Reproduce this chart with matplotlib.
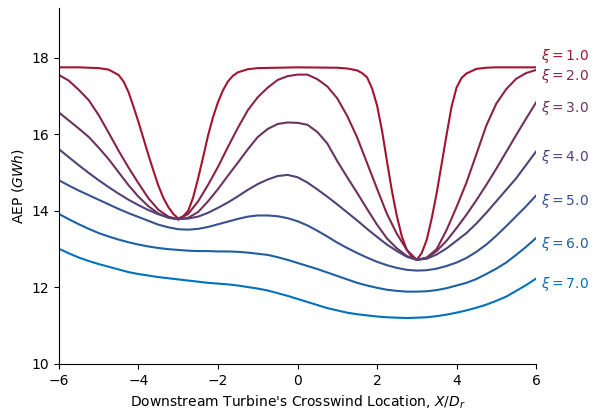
import numpy as np
import matplotlib
matplotlib.use('Agg')
import matplotlib.pyplot as plt
from matplotlib.colors import to_rgb

# posiciones muestreadas del eje x (X/D_r), paso de 0.25
x = np.linspace(-6, 6, 49)

# la curva xi=1 es muy empinada en los valles, la muestreamos mas fino ahi
x_xi1 = [-6.0, -5.5, -5.0, -4.75, -4.5, -4.375, -4.25, -4.125, -4.0, -3.875, -3.75, -3.625,
         -3.5, -3.375, -3.25, -3.125, -3.0, -2.875, -2.75, -2.625, -2.5, -2.375, -2.25,
         -2.125, -2.0, -1.875, -1.75, -1.625, -1.5, -1.25, -1.0, 0.0, 1.0, 1.25, 1.5, 1.625,
         1.75, 1.875, 2.0, 2.125, 2.25, 2.375, 2.5, 2.625, 2.75, 2.875, 3.0, 3.125, 3.25,
         3.375, 3.5, 3.625, 3.75, 3.875, 4.0, 4.125, 4.25, 4.5, 4.75, 5.0, 6.0]
aep_xi1 = [17.75, 17.75, 17.73, 17.69, 17.55, 17.38, 17.10, 16.72, 16.32, 15.89, 15.46, 15.05,
           14.66, 14.34, 14.10, 13.92, 13.80, 13.86, 14.00, 14.35, 14.85, 15.40, 15.97,
           16.45, 16.84, 17.15, 17.38, 17.53, 17.62, 17.70, 17.73, 17.75, 17.74, 17.72, 17.67, 17.60,
           17.49, 17.20, 16.76, 16.10, 15.30, 14.52, 13.86, 13.33, 12.98, 12.80, 12.72, 12.90, 13.24,
           13.80, 14.46, 15.22, 15.99, 16.72, 17.22, 17.47, 17.59, 17.71, 17.74, 17.75, 17.75]

aep_xi2 = [17.55, 17.40, 17.16, 16.89, 16.50, 16.04, 15.57, 15.13, 14.72, 14.33, 14.03, 13.85, 13.78,
           13.92, 14.25, 14.68, 15.15, 15.67, 16.17, 16.63, 16.97, 17.22, 17.42, 17.52, 17.56,
           17.56, 17.44, 17.25, 16.94, 16.48, 15.92, 15.25, 14.58, 13.92, 13.40, 12.98, 12.72,
           12.78, 13.00, 13.50, 14.10, 14.74, 15.48, 16.23, 16.80, 17.18, 17.45, 17.60, 17.68]
aep_xi3 = [16.57, 16.36, 16.15, 15.93, 15.65, 15.35, 15.01, 14.67, 14.37, 14.12, 13.93, 13.82, 13.78,
           13.82, 13.97, 14.25, 14.57, 14.92, 15.26, 15.61, 15.93, 16.14, 16.27, 16.31, 16.30,
           16.25, 16.06, 15.76, 15.30, 14.88, 14.47, 14.05, 13.64, 13.28, 13.02, 12.82, 12.72,
           12.77, 12.95, 13.22, 13.55, 13.90, 14.28, 14.68, 15.10, 15.54, 15.98, 16.41, 16.83]
aep_xi4 = [15.61, 15.40, 15.19, 14.99, 14.80, 14.62, 14.45, 14.29, 14.15, 14.02, 13.91, 13.83, 13.78,
           13.80, 13.85, 13.95, 14.08, 14.22, 14.38, 14.55, 14.70, 14.82, 14.91, 14.94, 14.88,
           14.74, 14.56, 14.37, 14.17, 13.96, 13.75, 13.53, 13.32, 13.12, 12.95, 12.80, 12.72,
           12.75, 12.86, 13.02, 13.22, 13.42, 13.67, 13.95, 14.25, 14.55, 14.85, 15.20, 15.55]
aep_xi5 = [14.80, 14.66, 14.53, 14.41, 14.29, 14.17, 14.05, 13.94, 13.84, 13.74, 13.64, 13.57, 13.52,
           13.51, 13.53, 13.58, 13.65, 13.72, 13.79, 13.85, 13.88, 13.88, 13.86, 13.81, 13.73,
           13.62, 13.48, 13.33, 13.17, 13.03, 12.90, 12.78, 12.67, 12.58, 12.51, 12.46, 12.44,
           12.45, 12.49, 12.56, 12.65, 12.77, 12.93, 13.12, 13.35, 13.60, 13.86, 14.12, 14.40]
aep_xi6 = [13.92, 13.78, 13.65, 13.53, 13.42, 13.33, 13.25, 13.18, 13.12, 13.07, 13.03, 13.00, 12.98,
           12.96, 12.95, 12.95, 12.94, 12.94, 12.93, 12.91, 12.88, 12.85, 12.79, 12.72, 12.64,
           12.56, 12.48, 12.39, 12.30, 12.21, 12.12, 12.05, 11.99, 11.94, 11.91, 11.89, 11.89,
           11.90, 11.93, 11.98, 12.05, 12.12, 12.22, 12.35, 12.49, 12.65, 12.85, 13.06, 13.29]
aep_xi7 = [13.01, 12.89, 12.78, 12.69, 12.61, 12.54, 12.47, 12.40, 12.35, 12.31, 12.27, 12.24, 12.21,
           12.18, 12.15, 12.12, 12.10, 12.08, 12.05, 12.01, 11.97, 11.92, 11.85, 11.78, 11.70,
           11.62, 11.54, 11.46, 11.40, 11.34, 11.30, 11.27, 11.24, 11.22, 11.21, 11.20, 11.21,
           11.22, 11.25, 11.29, 11.34, 11.40, 11.47, 11.55, 11.65, 11.76, 11.91, 12.06, 12.23]

xis = [1.0, 2.0, 3.0, 4.0, 5.0, 6.0, 7.0]
xs = [x_xi1, x, x, x, x, x, x]
curvas = [aep_xi1, aep_xi2, aep_xi3, aep_xi4, aep_xi5, aep_xi6, aep_xi7]

# degradado de rojo a azul
c_ini = np.array(to_rgb('#A2142F'))
c_fin = np.array(to_rgb('#0072BD'))

fig = plt.figure(figsize=(5.94, 4.11), dpi=100)
ax = fig.add_axes([0.0993, 0.1144, 0.8031, 0.8661])

for i, (xi, xx, aep) in enumerate(zip(xis, xs, curvas)):
    t = i / (len(xis) - 1)
    color = (1 - t) * c_ini + t * c_fin
    ax.plot(xx, aep, color=color, linewidth=1.5)
    # etiqueta al final de la curva, la primera un poco mas arriba para que no se pise
    y_txt = aep[-1] + 0.3 if i == 0 else aep[-1] - 0.15
    ax.text(6.13, y_txt, r'$\xi = %.1f$' % xi, color=color, fontsize=10,
            va='center', ha='left', clip_on=False)

ax.set_xlim(-6, 6)
ax.set_ylim(10, 19.3)
ax.set_xticks([-6, -4, -2, 0, 2, 4, 6])
ax.set_yticks([10, 12, 14, 16, 18])
ax.spines['top'].set_visible(False)
ax.spines['right'].set_visible(False)
ax.tick_params(labelsize=10)

ax.set_xlabel(r"Downstream Turbine's Crosswind Location, $X/D_r$", fontsize=10)
ax.set_ylabel(r'AEP ($GWh$)', fontsize=10)

plt.savefig('out.png', dpi=100)
